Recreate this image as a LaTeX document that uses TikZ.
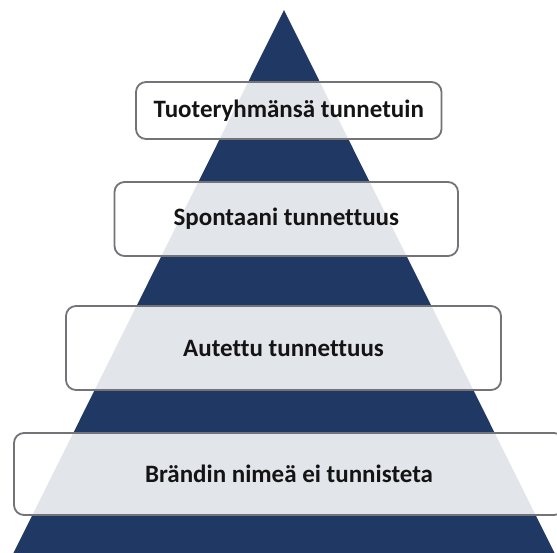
\documentclass[tikz,border=0pt]{standalone}
\usepackage{fontspec}
\setmainfont{Carlito}[Ligatures=NoCommon]
\definecolor{navy}{RGB}{31,56,100}
\definecolor{boxline}{RGB}{115,115,120}
\definecolor{txt}{RGB}{20,20,20}
\begin{document}
\begin{tikzpicture}[x=1pt,y=-1pt,
  tier/.style={draw=boxline, line width=1.8pt, rounded corners=10pt,
    fill=white, fill opacity=0.87, draw opacity=1, text opacity=1,
    text=txt, font=\fontsize{25}{30}\selectfont\bfseries,
    inner sep=0pt, anchor=center}]
\useasboundingbox (0,0) rectangle (557,552);
\clip (0,0) rectangle (557,552);
\fill[white] (0,0) rectangle (557,552);
\fill[navy] (284,10) -- (558,560) -- (10,560) -- cycle;
\node[tier, minimum width=305.5pt, minimum height=57pt] (t1) at (288.75,110.5) {Tuoteryhmänsä tunnetuin};
\node[tier, minimum width=343.5pt, minimum height=74pt] (t2) at (286.25,219) {Spontaani tunnettuus};
\node[tier, minimum width=435pt, minimum height=84pt] (t3) at (283.5,348) {Autettu tunnettuus};
\node[tier, minimum width=550pt, minimum height=82pt] (t4) at (289,474) {Brändin nimeä ei tunnisteta};
\end{tikzpicture}
\end{document}
